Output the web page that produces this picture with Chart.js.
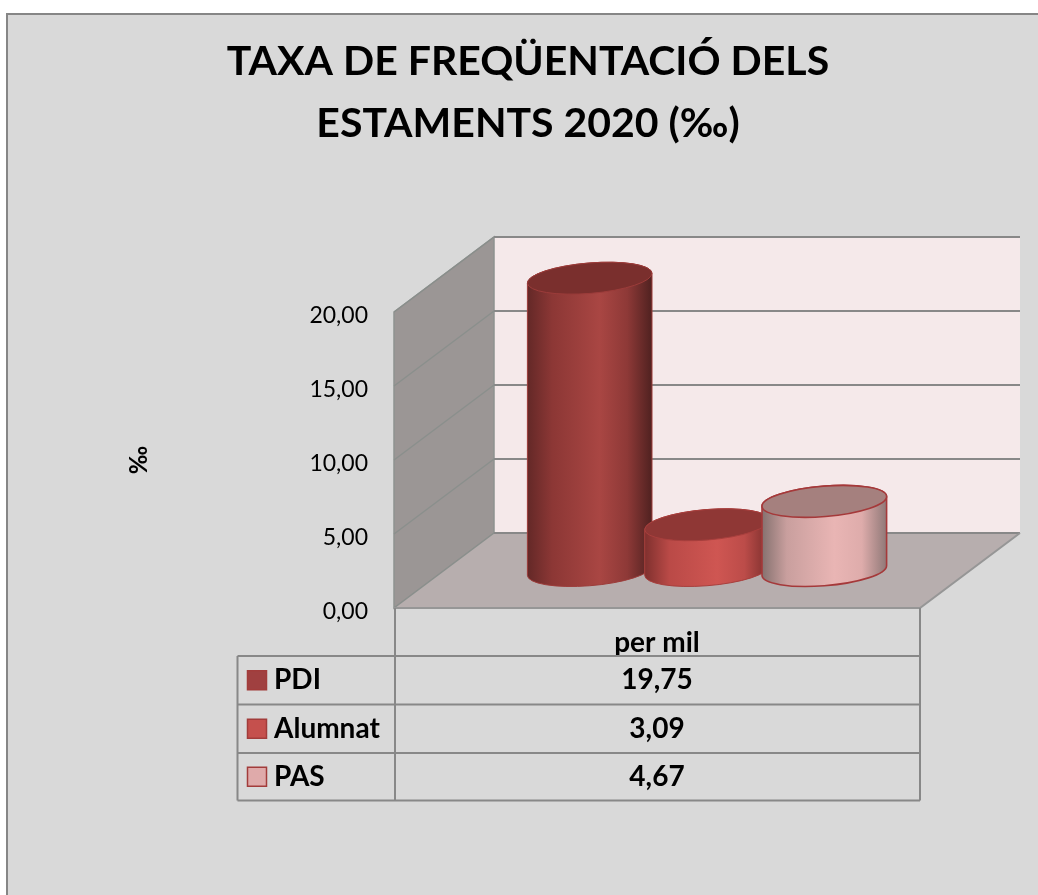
<!DOCTYPE html>
<html>
<head>
<meta charset="utf-8">
<title>Taxa de freqüentació</title>
<style>html,body{margin:0;padding:0;background:#fff}canvas{display:block}</style>
<script src="https://cdn.jsdelivr.net/npm/chart.js@4/dist/chart.umd.js"></script>
</head>
<body>
<canvas id="c" width="1038" height="895"></canvas>
<script>
const titleLines = ['TAXA DE FREQÜENTACIÓ DELS', 'ESTAMENTS 2020 (‰)'];
const axisTitle = '‰';
const categories = ['per mil'];
const seriesNames = ['PDI', 'Alumnat', 'PAS'];
const pdiValues = [19.75];
const alumnatValues = [3.09];
const pasValues = [4.67];
const yTicks = [0, 5, 10, 15, 20];

const FONT = 'Lato, "Open Sans", sans-serif';
const fmt = v => v.toFixed(2).replace('.', ',');

const fills = ['#a04040', '#c5504d', '#dfaaaa'];
const bodyStops = [
  ['#632827', '#8c3735', '#a94643', '#8e3937', '#4f2120'],
  ['#7f302e', '#ba4a47', '#cf5652', '#bc4c49', '#7a2e2c'],
  ['#85716f', '#c99f9e', '#e9b5b4', '#deacab', '#8f7877']
];
const capFills = ['#7a2f2d', '#8f3735', '#a5807e'];
const edgeColors = ['#9c3c3a', '#a83f3d', '#a5393a'];

const DEPTH_X = 100, DEPTH_Y = -75, MID = 0.5;
const LINE = '#888888';

function cylinder(ctx, i, x, top, base) {
  const a = 62.5, b = 15.2, rot = -4.7 * Math.PI / 180;
  const cx = x + DEPTH_X * MID;
  const ty = top + DEPTH_Y * 0.5, by = base + DEPTH_Y * 0.5;
  const t0 = Math.atan(-(b / a) * Math.tan(rot));
  const g = ctx.createLinearGradient(cx - a, 0, cx + a, 0);
  const st = bodyStops[i];
  [0, 0.2, 0.58, 0.8, 1].forEach((p, k) => g.addColorStop(p, st[k]));
  ctx.beginPath();
  ctx.ellipse(cx, by, a, b, rot, t0, t0 + Math.PI, false);
  ctx.ellipse(cx, ty, a, b, rot, t0 + Math.PI, t0 + 2 * Math.PI, false);
  ctx.closePath();
  ctx.fillStyle = g;
  ctx.fill();
  ctx.strokeStyle = edgeColors[i];
  ctx.lineWidth = i === 2 ? 1.6 : 1;
  ctx.stroke();
  ctx.beginPath();
  ctx.ellipse(cx, ty, a, b, rot, 0, 2 * Math.PI);
  ctx.fillStyle = capFills[i];
  ctx.fill();
  ctx.stroke();
}

const scene = {
  id: 'scene',
  beforeDraw(chart) {
    const ctx = chart.ctx;
    ctx.save();
    ctx.fillStyle = '#d9d9d9';
    ctx.fillRect(7, 14, 1031, 881);
    ctx.fillStyle = '#868686';
    ctx.fillRect(6, 13, 1032, 2);
    ctx.fillRect(6, 13, 2, 882);
    ctx.restore();
  },
  beforeDatasetsDraw(chart) {
    const ctx = chart.ctx, { left, right, top, bottom } = chart.chartArea;
    const y = chart.scales.y;
    const bl = left + DEPTH_X, br = right + DEPTH_X;
    const poly = (pts, fill, stroke, w) => {
      ctx.beginPath();
      pts.forEach((p, i) => i ? ctx.lineTo(p[0], p[1]) : ctx.moveTo(p[0], p[1]));
      ctx.closePath();
      ctx.fillStyle = fill; ctx.fill();
      if (stroke) { ctx.strokeStyle = stroke; ctx.lineWidth = w; ctx.stroke(); }
    };
    ctx.save();
    ctx.fillStyle = '#f5e9ea';
    ctx.fillRect(bl, top + DEPTH_Y, right + DEPTH_X - bl, bottom - top);
    poly([[left, top], [bl, top + DEPTH_Y], [bl, bottom + DEPTH_Y], [left, bottom]], '#9b9695', '#8f9290', 1.5);
    poly([[left, bottom], [bl, bottom + DEPTH_Y], [br, bottom + DEPTH_Y], [right, bottom]], '#b7aeae');
    yTicks.forEach(v => {
      const py = y.getPixelForValue(v);
      ctx.beginPath();
      ctx.moveTo(left, py); ctx.lineTo(bl, py + DEPTH_Y);
      ctx.strokeStyle = '#8a8f8c'; ctx.lineWidth = 1.3; ctx.stroke();
      ctx.beginPath();
      ctx.moveTo(bl, py + DEPTH_Y); ctx.lineTo(br, py + DEPTH_Y);
      ctx.strokeStyle = LINE; ctx.lineWidth = 2; ctx.stroke();
    });
    ctx.beginPath();
    ctx.moveTo(left, bottom); ctx.lineTo(right, bottom); ctx.lineTo(br, bottom + DEPTH_Y);
    ctx.strokeStyle = '#969696'; ctx.lineWidth = 2; ctx.stroke();
    ctx.restore();
  },
  afterDatasetsDraw(chart) {
    const ctx = chart.ctx;
    ctx.save();
    chart.data.datasets.forEach((ds, i) => {
      chart.getDatasetMeta(i).data.forEach(el => {
        const p = el.getProps(['x', 'y', 'base'], true);
        cylinder(ctx, i, p.x, p.y, p.base);
      });
    });
    ctx.restore();
  },
  afterDraw(chart) {
    const ctx = chart.ctx, { left, right, bottom } = chart.chartArea;
    const rowTops = [656, 704.5, 753, 800.5];
    const xLeft = 237.5, xMid = left + 1;
    ctx.save();
    ctx.strokeStyle = LINE; ctx.lineWidth = 2;
    ctx.beginPath();
    ctx.moveTo(xMid, bottom); ctx.lineTo(xMid, rowTops[3]);
    ctx.moveTo(right, bottom); ctx.lineTo(right, rowTops[3]);
    ctx.moveTo(xLeft, rowTops[0]); ctx.lineTo(xLeft, rowTops[3]);
    rowTops.forEach(ry => { ctx.moveTo(xLeft, ry); ctx.lineTo(right, ry); });
    ctx.stroke();
    const cellCx = (left + right) / 2;
    chart.data.datasets.forEach((ds, i) => {
      const cy = (rowTops[i] + rowTops[i + 1]) / 2;
      ctx.fillStyle = fills[i];
      ctx.fillRect(247.5, cy - 9.5, 19, 19);
      ctx.strokeStyle = '#a23c3b'; ctx.lineWidth = 1.5;
      ctx.strokeRect(247.5, cy - 9.5, 19, 19);
      ctx.fillStyle = '#000';
      ctx.font = 'bold 28px ' + FONT;
      ctx.textBaseline = 'middle';
      ctx.textAlign = 'left';
      ctx.fillText(ds.label, 274, cy);
      ctx.textAlign = 'center';
      ctx.fillText(fmt(ds.data[0]), cellCx, cy);
    });
    ctx.restore();
  }
};

new Chart(document.getElementById('c'), {
  type: 'bar',
  data: {
    labels: categories,
    datasets: [
      { label: seriesNames[0], data: pdiValues, backgroundColor: 'rgba(0,0,0,0)' },
      { label: seriesNames[1], data: alumnatValues, backgroundColor: 'rgba(0,0,0,0)' },
      { label: seriesNames[2], data: pasValues, backgroundColor: 'rgba(0,0,0,0)' }
    ]
  },
  options: {
    responsive: false,
    animation: false,
    devicePixelRatio: 1,
    layout: { autoPadding: false, padding: { left: 18, right: 0, top: 0, bottom: 0 } },
    datasets: { bar: { categoryPercentage: 0.669, barPercentage: 1 } },
    plugins: {
      legend: { display: false },
      tooltip: { enabled: false },
      title: {
        display: true,
        text: titleLines,
        color: '#000',
        font: { family: FONT, size: 41, weight: 'bold', lineHeight: 1.512 },
        padding: { top: 31, bottom: 157 }
      }
    },
    scales: {
      x: {
        grid: { display: false },
        border: { display: false },
        ticks: { color: '#000', font: { family: FONT, size: 28, weight: 'bold' }, padding: 10 },
        afterFit: s => { s.height = 287; }
      },
      y: {
        min: 0, max: 20,
        afterBuildTicks: s => { s.ticks = yTicks.map(v => ({ value: v })); },
        grid: { display: false },
        border: { display: false },
        ticks: { color: '#000', padding: 18, labelOffset: 4, font: { family: FONT, size: 23 }, callback: v => fmt(v) },
        title: {
          display: true, text: axisTitle, color: '#000',
          font: { family: FONT, size: 24, weight: 'bold' },
          padding: { top: 107, bottom: 0 }
        },
        afterFit: s => { s.width = 376; }
      },
      y2: {
        position: 'right',
        grid: { display: false },
        border: { display: false },
        ticks: { display: false },
        afterFit: s => { s.width = 118; }
      }
    }
  },
  plugins: [scene]
});
</script>
</body>
</html>
